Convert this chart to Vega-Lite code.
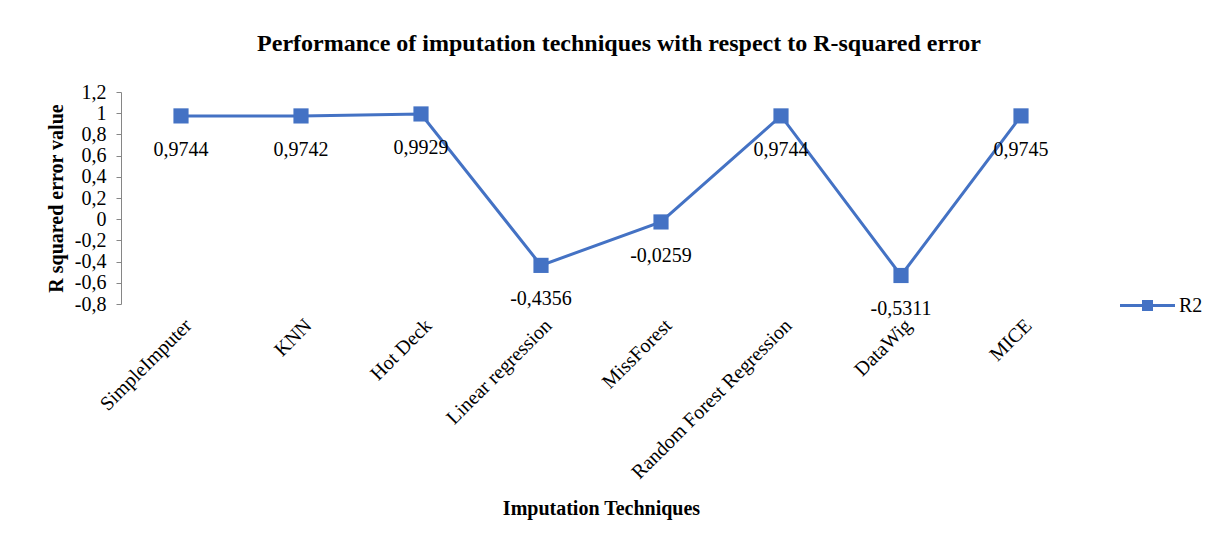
{
  "$schema": "https://vega.github.io/schema/vega-lite/v6.json",
  "width": 960,
  "height": 212,
  "autosize": {"type": "none"},
  "padding": {"left": 121, "top": 92, "right": 146, "bottom": 239},
  "background": "white",
  "title": {
    "text": "Performance of imputation techniques with respect to R-squared error",
    "anchor": "middle",
    "font": "Liberation Serif",
    "fontSize": 24,
    "fontWeight": "bold",
    "color": "#000000",
    "offset": 26,
    "dx": 18
  },
  "data": {
    "values": [
      {"technique": "SimpleImputer", "r2": 0.9744, "series": "R2"},
      {"technique": "KNN", "r2": 0.9742, "series": "R2"},
      {"technique": "Hot Deck", "r2": 0.9929, "series": "R2"},
      {"technique": "Linear regression", "r2": -0.4356, "series": "R2"},
      {"technique": "MissForest", "r2": -0.0259, "series": "R2"},
      {"technique": "Random Forest Regression", "r2": 0.9744, "series": "R2"},
      {"technique": "DataWig", "r2": -0.5311, "series": "R2"},
      {"technique": "MICE", "r2": 0.9745, "series": "R2"}
    ]
  },
  "encoding": {
    "x": {
      "field": "technique",
      "type": "nominal",
      "sort": null,
      "scale": {"type": "point", "padding": 0.5},
      "axis": {
        "title": "Imputation Techniques",
        "titleFont": "Liberation Serif",
        "titleFontSize": 20,
        "titleFontWeight": "bold",
        "titleColor": "#000000",
        "titlePadding": 16,
        "labelFont": "Liberation Serif",
        "labelFontSize": 20,
        "labelColor": "#000000",
        "labelAngle": -45,
        "labelPadding": 11,
        "labelLimit": 500,
        "domain": false,
        "ticks": false,
        "grid": false
      }
    },
    "y": {
      "field": "r2",
      "type": "quantitative",
      "scale": {"domain": [-0.8, 1.2], "nice": false, "zero": false},
      "axis": {
        "title": "R squared error value",
        "titleFont": "Liberation Serif",
        "titleFontSize": 20,
        "titleFontWeight": "bold",
        "titleColor": "#000000",
        "titlePadding": 8,
        "labelFont": "Liberation Serif",
        "labelFontSize": 20,
        "labelColor": "#000000",
        "values": [-0.8, -0.6, -0.4, -0.2, 0, 0.2, 0.4, 0.6, 0.8, 1, 1.2],
        "format": ".1~f",
        "domainColor": "#868686",
        "tickColor": "#868686",
        "tickSize": 5,
        "labelPadding": 10,
        "grid": false
      }
    }
  },
  "layer": [
    {
      "mark": {"type": "rule", "color": "#868686", "strokeWidth": 1},
      "encoding": {"y": {"datum": 0}}
    },
    {
      "mark": {
        "type": "line",
        "strokeWidth": 3,
        "point": {"shape": "square", "filled": true, "size": 230, "opacity": 1}
      },
      "encoding": {
        "color": {
          "field": "series",
          "type": "nominal",
          "scale": {"range": ["#4472C4"]},
          "legend": {
            "title": null,
            "orient": "none",
            "legendX": 999,
            "legendY": 186,
            "labelFont": "Liberation Serif",
            "labelFontSize": 20,
            "labelColor": "#000000",
            "symbolType": "M-1,-0.055H1V0.055H-1Z M-0.2,-0.2H0.2V0.2H-0.2Z",
            "symbolSize": 3025,
            "labelOffset": 4,
            "encode": {
              "symbols": {
                "update": {
                  "fill": {"value": "#4472C4"},
                  "stroke": {"value": "#4472C4"},
                  "strokeWidth": {"value": 0},
                  "opacity": {"value": 1}
                }
              }
            }
          }
        }
      }
    },
    {
      "mark": {
        "type": "text",
        "dy": 34,
        "font": "Liberation Serif",
        "fontSize": 20,
        "color": "#000000",
        "baseline": "middle",
        "align": "center"
      },
      "encoding": {
        "text": {"field": "r2", "type": "quantitative", "format": ".4f"}
      }
    }
  ],
  "config": {
    "view": {"stroke": null},
    "locale": {
      "number": {
        "decimal": ",",
        "thousands": ".",
        "grouping": [3],
        "currency": ["", ""],
        "minus": "-"
      }
    }
  }
}
